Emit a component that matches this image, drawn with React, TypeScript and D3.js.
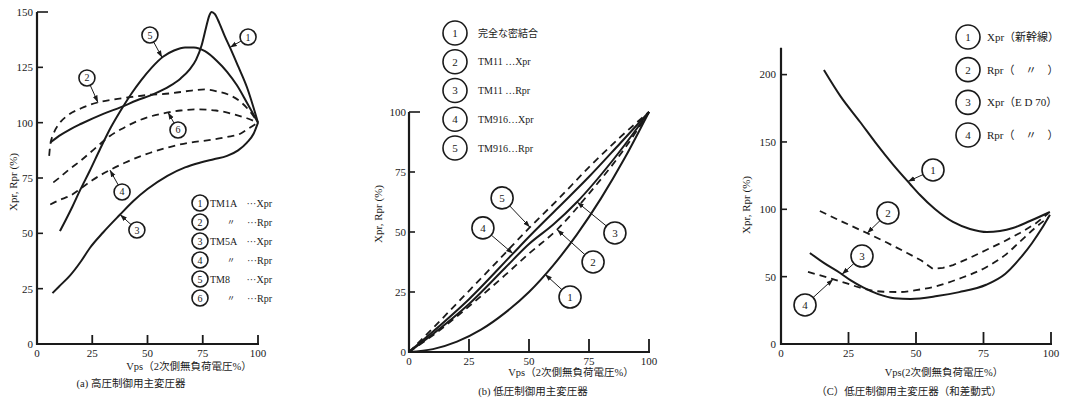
import React from 'react';
import * as d3 from 'd3';

type Pt = [number, number];

// ---------- tick values ----------
const pctTicks = [0, 25, 50, 75, 100];
const aYTicks = [0, 25, 50, 75, 100, 125, 150];
const bYTicks = [0, 25, 50, 75, 100];
const cYTicks = [0, 50, 100, 150, 200];

// ---------- (a) high-voltage control main transformer ----------
const aTM1A_X: Pt[] = [[6, 91], [10, 94], [15, 97], [20, 99.5], [30, 104], [38, 107], [45, 110], [53, 113], [60, 116.5], [65, 120], [69, 124], [72, 128.5], [74.5, 135], [76.5, 143], [78, 148.5], [79, 150], [80.5, 149], [82.5, 145], [85, 139], [87.3, 134], [91, 125.5], [95, 116], [100, 100]];
const aTM1A_R: Pt[] = [[5.5, 85], [6, 90], [7.5, 95], [10, 99.5], [13.5, 103], [20, 106.5], [27, 109], [35, 110.5], [42, 111.5], [50, 112.5], [60, 113.2], [70, 114.5], [76, 115], [82, 114], [87, 112.5], [92, 109.5], [96, 105.5], [100, 100]];
const aTM5A_X: Pt[] = [[7, 23], [10, 26], [15, 31], [20, 37.5], [24, 43.5], [30, 50.5], [37.6, 58.5], [43.5, 64.5], [50, 70], [59, 76], [67, 79.8], [74, 82], [80, 83.5], [86, 85], [91, 87.5], [95, 91], [98, 95], [100, 100]];
const aTM5A_R: Pt[] = [[6, 63], [10, 65], [15, 67], [19.5, 70], [25, 74], [33, 78.6], [40, 82], [51, 86.3], [60, 89], [68, 90.8], [77, 92], [86, 93.5], [92, 95], [96, 97.5], [100, 100]];
const aTM8_X: Pt[] = [[10.4, 51], [13, 56], [16, 62], [19.5, 69.5], [24, 78.5], [28.5, 88], [33.5, 98], [38.5, 106.5], [43, 113.5], [47, 119], [52, 125], [57, 129.8], [62, 132.6], [67, 134], [71, 134], [76, 132.3], [81.3, 128], [86, 123], [90.4, 117], [95, 109], [100, 100]];
const aTM8_R: Pt[] = [[7.4, 73], [10, 75], [13.5, 78], [20, 83], [27, 89], [33, 94], [38, 97], [46.6, 101.2], [52, 103], [58.7, 104.5], [65, 105.5], [72, 106], [81, 105.5], [90, 103.5], [95, 102], [100, 100]];
const aLegendNames = ['TM1A', '〃', 'TM5A', '〃', 'TM8', '〃'];
const aLegendQty = ['···Xpr', '···Rpr', '···Xpr', '···Rpr', '···Xpr', '···Rpr'];

// ---------- (b) low-voltage control main transformer ----------
const bIdeal: Pt[] = [[0, 0], [10, 1.2], [20, 4.3], [30, 9.3], [40, 16.3], [50, 25], [60, 36], [70, 49], [80, 64], [90, 81], [100, 100]];
const bTM11_X: Pt[] = [[0, 0], [10, 7], [25, 19], [40, 32], [50, 41], [61.7, 51], [75, 66], [90, 85], [100, 100]];
const bTM11_R: Pt[] = [[0, 0], [10, 7.5], [25, 20], [40, 35], [50, 45], [60, 53], [70, 62.5], [85, 80], [100, 100]];
const bTM916_X: Pt[] = [[0, 0], [10, 8.5], [25, 22], [43.3, 41], [50, 48], [62, 60], [75, 73], [88, 87], [100, 100]];
const bTM916_R: Pt[] = [[0, 0], [10, 10], [25, 25.5], [38, 39], [50.4, 52], [62, 63.5], [75, 77], [88, 89.5], [100, 100]];
const bLegend = ['完全な密結合', 'TM11 …Xpr', 'TM11 …Rpr', 'TM916…Xpr', 'TM916…Rpr'];

// ---------- (c) low-voltage control main transformer (sum-difference type) ----------
const cShinkansenX: Pt[] = [[15.9, 203.4], [22, 184], [29.3, 164.8], [35, 149.5], [41.5, 133.2], [47.8, 118.8], [51.5, 110.6], [57, 100.2], [63.7, 90.6], [70, 85.4], [76.3, 83.1], [81.1, 83.9], [85.9, 86.1], [92.2, 91.3], [99.6, 98]];
const cShinkansenR: Pt[] = [[14.4, 98.7], [23, 90.5], [31.8, 82.4], [39, 75.5], [46.7, 67.6], [52, 62], [56.3, 55.7], [60, 56.5], [63.7, 58.6], [70, 64], [76, 69.8], [82, 75.5], [88.5, 82.4], [94, 89], [99, 97]];
const cED70_X: Pt[] = [[10.7, 67.6], [16, 60], [21.9, 52.7], [26, 47], [30.4, 42], [36, 37], [42, 34], [48, 33.5], [57.8, 35.6], [66, 38.5], [76, 44], [83, 52], [88.5, 63.5], [93, 75], [96.5, 85.5], [99.6, 96]];
const cED70_R: Pt[] = [[10, 53.5], [17, 49.5], [24.4, 45], [29, 42], [33, 40], [38, 38.8], [44, 38.6], [50, 40], [56.3, 42.3], [66, 48.5], [76, 57], [83, 66], [88.5, 76], [94, 86], [99, 94]];
const cLegend = ['Xpr（新幹線）', 'Rpr（　〃　）', 'Xpr（E D 70）', 'Rpr（　〃　）'];

// ---------- numbered callouts: [label, series index, tip x, circle x, circle y] ----------
type Callout = [string, number, number, number, number];
const aCallouts: Callout[] = [
  ['1', 0, 87.3, 95.5, 138.7],
  ['2', 1, 27.6, 22.6, 120.2],
  ['3', 2, 37.6, 45.2, 51.5],
  ['4', 3, 33, 38.5, 68.7],
  ['5', 4, 56.6, 51.1, 139.6],
  ['6', 5, 59.3, 63.8, 96.7],
];
const bCallouts: Callout[] = [
  ['1', 0, 56.7, 67.1, 22.9],
  ['2', 1, 61.7, 76.7, 37.5],
  ['3', 2, 70, 85.8, 49.6],
  ['4', 3, 43.3, 30.8, 51.7],
  ['5', 4, 50.4, 38.8, 64.2],
];
const cCallouts: Callout[] = [
  ['1', 0, 47, 56.3, 129.2],
  ['2', 1, 31.9, 39.6, 97.3],
  ['3', 2, 22.6, 30, 65.3],
  ['4', 3, 19.3, 8.9, 29],
];

const SERIF = "'Liberation Serif','DejaVu Serif','Noto Sans CJK JP',serif";
const INK = '#1a1a1a';

interface Series { data: Pt[]; dashed: boolean; linear?: boolean }
interface Panel {
  x0: number; x1: number; yBottom: number; yTop: number; yMax: number; axisTop: number;
  yTicks: number[]; series: Series[]; callouts: Callout[]; calloutR: number;
  yLabel: [number, number]; xTitle: [number, number, string]; caption: [number, number, string];
  xTickLen: number; yTickLabelDx: number;
}

const panels: Panel[] = [
  {
    x0: 37, x1: 258, yBottom: 344, yTop: 12, yMax: 150, axisTop: 150,
    yTicks: aYTicks,
    series: [
      { data: aTM1A_X, dashed: false }, { data: aTM1A_R, dashed: true },
      { data: aTM5A_X, dashed: false }, { data: aTM5A_R, dashed: true },
      { data: aTM8_X, dashed: false }, { data: aTM8_R, dashed: true },
    ],
    callouts: aCallouts, calloutR: 8,
    yLabel: [13, 182], xTitle: [189, 370, 'Vps（2次側無負荷電圧%）'], caption: [131, 387, '(a) 高圧制御用主変圧器'],
    xTickLen: 9, yTickLabelDx: -4,
  },
  {
    x0: 409, x1: 649, yBottom: 352, yTop: 112, yMax: 100, axisTop: 100,
    yTicks: bYTicks,
    series: [
      { data: bIdeal, dashed: false }, { data: bTM11_X, dashed: true },
      { data: bTM11_R, dashed: false }, { data: bTM916_X, dashed: false },
      { data: bTM916_R, dashed: true },
    ],
    callouts: bCallouts, calloutR: 11,
    yLabel: [378, 214], xTitle: [571, 376, 'Vps（2次側無負荷電圧%）'], caption: [533, 395, '(b) 低圧制御用主変圧器'],
    xTickLen: 13, yTickLabelDx: -3,
  },
  {
    x0: 781, x1: 1051, yBottom: 344, yTop: 74.6, yMax: 200, axisTop: 220,
    yTicks: cYTicks,
    series: [
      { data: cShinkansenX, dashed: false }, { data: cShinkansenR, dashed: true, linear: true },
      { data: cED70_X, dashed: false }, { data: cED70_R, dashed: true },
    ],
    callouts: cCallouts, calloutR: 11,
    yLabel: [746, 205], xTitle: [944, 376, 'Vps(2次側無負荷電圧%）'], caption: [909, 395, '（C）低圧制御用主変圧器（和差動式）'],
    xTickLen: 12, yTickLabelDx: -5,
  },
];

function interpY(data: Pt[], x: number): number {
  for (let i = 1; i < data.length; i++) {
    const [xa, ya] = data[i - 1];
    const [xb, yb] = data[i];
    if (x >= xa && x <= xb) return ya + ((yb - ya) * (x - xa)) / (xb - xa);
  }
  return data[data.length - 1][1];
}

function PanelView({ p, idx }: { p: Panel; idx: number }) {
  const x = d3.scaleLinear().domain([0, 100]).range([p.x0, p.x1]);
  const y = d3.scaleLinear().domain([0, p.yMax]).range([p.yBottom, p.yTop]);
  const smooth = d3.line<Pt>().x((d) => x(d[0])).y((d) => y(d[1])).curve(d3.curveMonotoneX);
  const straight = d3.line<Pt>().x((d) => x(d[0])).y((d) => y(d[1]));
  const markerId = `arrow-${idx}`;

  return (
    <g>
      <defs>
        <marker id={markerId} viewBox="0 0 10 10" refX="10" refY="5" markerWidth="7" markerHeight="7" orient="auto" markerUnits="userSpaceOnUse">
          <path d="M0,1.5 L10,5 L0,8.5 Z" fill={INK} />
        </marker>
      </defs>

      {/* axes */}
      <line x1={x(0)} x2={x(0)} y1={y(0) + 1} y2={y(p.axisTop)} stroke={INK} strokeWidth={2.2} />
      <line x1={x(0) - 1} x2={x(100) + 1} y1={y(0)} y2={y(0)} stroke={INK} strokeWidth={2} />
      {p.yTicks.map((t) => (
        <g key={`yt${t}`}>
          {t > 0 && (
            <line x1={x(0)} x2={x(0) + (t === p.yTicks[p.yTicks.length - 1] && p.axisTop === t ? 11 : 6)} y1={y(t)} y2={y(t)} stroke={INK} strokeWidth={1.6} />
          )}
          <text x={x(0) + p.yTickLabelDx} y={y(t)} dy="0.35em" textAnchor="end" fontSize={11} fontFamily={SERIF} fill={INK}>{t}</text>
        </g>
      ))}
      {pctTicks.map((t) => (
        <g key={`xt${t}`}>
          {t > 0 && <line x1={x(t)} x2={x(t)} y1={y(0)} y2={y(0) - p.xTickLen} stroke={INK} strokeWidth={1.8} />}
          <text x={x(t)} y={y(0) + 13} textAnchor="middle" fontSize={11} fontFamily={SERIF} fill={INK}>{t}</text>
        </g>
      ))}
      <text transform={`translate(${p.yLabel[0]},${p.yLabel[1]}) rotate(-90)`} textAnchor="middle" dy="0.35em" fontSize={11} fontFamily={SERIF} fill={INK}>Xpr,  Rpr (%)</text>
      <text x={p.xTitle[0]} y={p.xTitle[1]} textAnchor="middle" fontSize={10.5} fontFamily={SERIF} fill={INK}>{p.xTitle[2]}</text>
      <text x={p.caption[0]} y={p.caption[1]} textAnchor="middle" fontSize={10.5} fontFamily={SERIF} fill={INK}>{p.caption[2]}</text>

      {/* curves */}
      {p.series.map((s, i) => (
        <path key={`s${i}`} d={(s.linear ? straight : smooth)(s.data) || ''} fill="none" stroke={INK}
          strokeWidth={s.dashed ? 1.8 : 2} strokeDasharray={s.dashed ? '7,5' : undefined} strokeLinejoin="round" />
      ))}

      {/* numbered callouts */}
      {p.callouts.map(([label, si, tx, cx, cy]) => {
        const tipX = x(tx);
        const tipY = y(interpY(p.series[si].data, tx));
        const ccx = x(cx);
        const ccy = y(cy);
        const dx = tipX - ccx;
        const dy = tipY - ccy;
        const len = Math.hypot(dx, dy) || 1;
        const sx = ccx + (dx / len) * p.calloutR;
        const sy = ccy + (dy / len) * p.calloutR;
        return (
          <g key={`c${label}`}>
            <line x1={sx} y1={sy} x2={tipX} y2={tipY} stroke={INK} strokeWidth={1} markerEnd={`url(#${markerId})`} />
            <circle cx={ccx} cy={ccy} r={p.calloutR} fill="#fff" stroke={INK} strokeWidth={1.6} />
            <text x={ccx} y={ccy} dy="0.35em" textAnchor="middle" fontSize={p.calloutR > 9 ? 11 : 10} fontFamily={SERIF} fill={INK}>{label}</text>
          </g>
        );
      })}
    </g>
  );
}

function LegendCircle({ cx, cy, r, label }: { cx: number; cy: number; r: number; label: string }) {
  return (
    <g>
      <circle cx={cx} cy={cy} r={r} fill="#fff" stroke={INK} strokeWidth={1.6} />
      <text x={cx} y={cy} dy="0.35em" textAnchor="middle" fontSize={r > 9 ? 11 : 10} fontFamily={SERIF} fill={INK}>{label}</text>
    </g>
  );
}

export default function App() {
  const aRow = d3.scalePoint<number>().domain(d3.range(aLegendNames.length)).range([203, 298]);
  const bRow = d3.scalePoint<number>().domain(d3.range(bLegend.length)).range([33, 148]);
  const cRow = d3.scalePoint<number>().domain(d3.range(cLegend.length)).range([37, 135]);

  return (
    <svg width={1069} height={401} viewBox="0 0 1069 401" style={{ position: 'absolute', left: 0, top: 0, background: '#fff' }}>
      <rect width={1069} height={401} fill="#fff" />
      {panels.map((p, i) => <PanelView key={i} p={p} idx={i} />)}

      {/* legend (a) */}
      {aLegendNames.map((name, i) => (
        <g key={`la${i}`}>
          <LegendCircle cx={200} cy={aRow(i)!} r={8} label={String(i + 1)} />
          {name === '〃'
            ? <text x={231} y={aRow(i)!} dy="0.35em" textAnchor="middle" fontSize={8} fontFamily={SERIF} fill={INK}>{name}</text>
            : <text x={210} y={aRow(i)!} dy="0.35em" fontSize={10} fontFamily={SERIF} fill={INK}>{name}</text>}
          <text x={272} y={aRow(i)!} dy="0.35em" textAnchor="end" fontSize={10} fontFamily={SERIF} fill={INK}>{aLegendQty[i]}</text>
        </g>
      ))}

      {/* legend (b) */}
      {bLegend.map((t, i) => (
        <g key={`lb${i}`}>
          <LegendCircle cx={455} cy={bRow(i)!} r={12} label={String(i + 1)} />
          <text x={478} y={bRow(i)!} dy="0.35em" fontSize={10} fontFamily={SERIF} fill={INK}>{t}</text>
        </g>
      ))}

      {/* legend (c) */}
      {cLegend.map((t, i) => (
        <g key={`lc${i}`}>
          <LegendCircle cx={968} cy={cRow(i)!} r={12} label={String(i + 1)} />
          <text x={987} y={cRow(i)!} dy="0.35em" fontSize={11} fontFamily={SERIF} fill={INK}>{t}</text>
        </g>
      ))}
    </svg>
  );
}
